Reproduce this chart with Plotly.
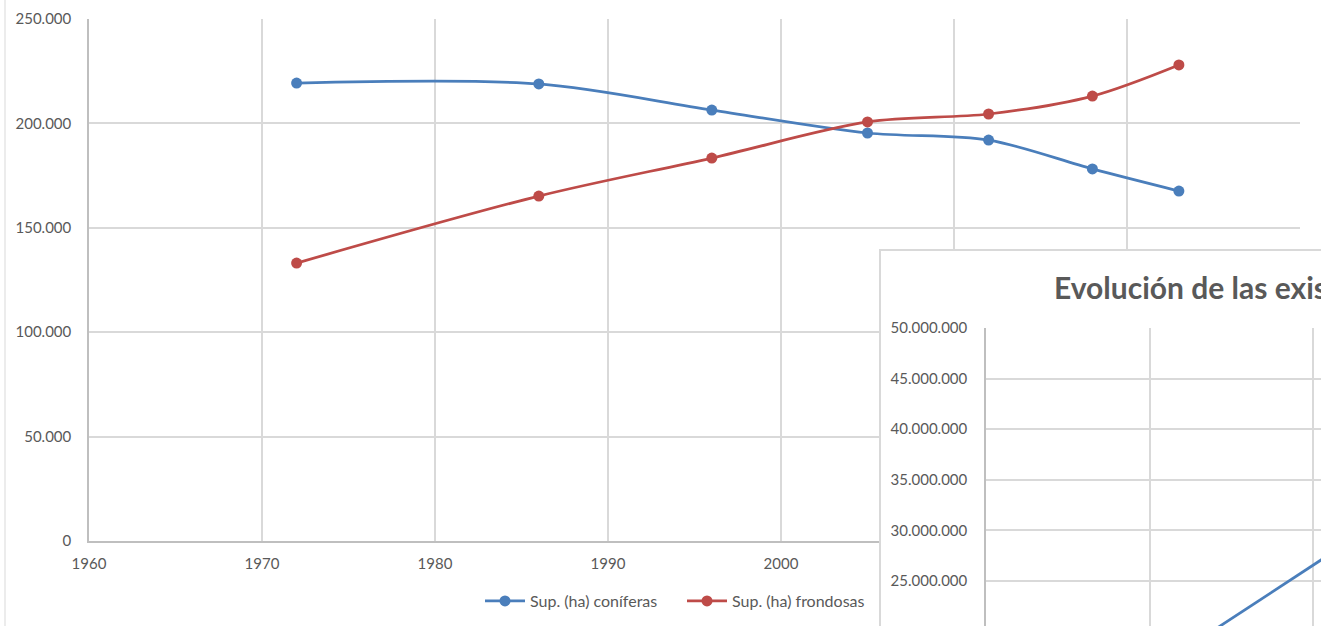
import plotly.graph_objects as go

# ---- data ----
years = [1972, 1986, 1996, 2005, 2012, 2018, 2023]
coniferas = [219300, 218900, 206400, 195400, 192000, 178200, 167600]
frondosas = [133100, 165200, 183400, 200700, 204500, 213100, 228000]

inset_years = [1972, 1986]
inset_existencias = [18100000, 32900000]

main_x_ticks = [1960, 1970, 1980, 1990, 2000, 2010, 2020, 2030]
main_y_ticks = [0, 50000, 100000, 150000, 200000, 250000]
inset_y_ticks = [20000000, 25000000, 30000000, 35000000, 40000000, 45000000, 50000000]

inset_title = "Evolución de las existencias"

BLUE = "#4a7ebb"
RED = "#be4b48"
GRID = "#d9d9d9"
AXIS = "#bfbfbf"
TXT = "#595959"
FONT = "Lato"

W, H = 1321, 626
OFF = 0  # body margin removed via post_script

def px_x(p):
    return (p - OFF) / W

def px_y(p):
    return (H - (p - OFF)) / H

# inset axis scale (page pixels per unit)
INSET_X_PX_PER_YEAR = 16.35
INSET_Y_PX_PER_UNIT = (581 - 328) / 25000000
inset_x_end = 1960 + (OFF + W - 986) / INSET_X_PX_PER_YEAR
inset_y_bottom = 50000000 - (OFF + H - 328) / INSET_Y_PX_PER_UNIT

fig = go.Figure()

fig.add_trace(go.Scatter(
    x=years, y=coniferas, name="Sup. (ha) coníferas",
    mode="lines+markers", line=dict(color=BLUE, width=2.75, shape="spline", smoothing=0.9),
    marker=dict(size=11, color=BLUE), xaxis="x", yaxis="y"))
fig.add_trace(go.Scatter(
    x=years, y=frondosas, name="Sup. (ha) frondosas",
    mode="lines+markers", line=dict(color=RED, width=2.75, shape="spline", smoothing=0.9),
    marker=dict(size=11, color=RED), xaxis="x", yaxis="y"))

# empty trace to create the inset chart-area (box) subplot
fig.add_trace(go.Scatter(x=[], y=[], xaxis="x2", yaxis="y2", showlegend=False, hoverinfo="skip"))

# inset series
fig.add_trace(go.Scatter(
    x=inset_years, y=inset_existencias, name="Existencias",
    mode="lines", line=dict(color=BLUE, width=2.75),
    xaxis="x3", yaxis="y3", showlegend=False))

fig.update_layout(
    template="none",
    width=W, height=H,
    margin=dict(l=0, r=0, t=0, b=0, pad=0, autoexpand=False),
    paper_bgcolor="white", plot_bgcolor="white",
    separators=",.",
    font=dict(family=FONT, size=15, color=TXT),
    showlegend=True,
    legend=dict(orientation="h", x=px_x(682), xanchor="center", y=px_y(601), yanchor="middle",
                font=dict(family=FONT, size=16, color=TXT), itemwidth=40,
                entrywidth=147, entrywidthmode="pixels",
                bgcolor="rgba(0,0,0,0)"),
    xaxis=dict(domain=[px_x(89), px_x(1300)], range=[1960, 2030], tickvals=main_x_ticks,
               showgrid=True, gridcolor=GRID, gridwidth=1.5, showline=True, linecolor=AXIS,
               linewidth=1.5, zeroline=False, ticks="", tickfont=dict(size=15, color=TXT),
               ticklabelstandoff=8, anchor="y", automargin=False),
    yaxis=dict(domain=[px_y(541), px_y(19)], range=[0, 250000], tickvals=main_y_ticks,
               tickformat=",d", showgrid=True, gridcolor=GRID, gridwidth=1.5, showline=True,
               linecolor=AXIS, linewidth=1.5, zeroline=False, ticks="",
               tickfont=dict(size=15, color=TXT), ticklabelstandoff=13, anchor="x",
               automargin=False),
    xaxis2=dict(domain=[px_x(881), 1], range=[0, 1], visible=True, showgrid=False,
                showticklabels=False, zeroline=False, showline=True, side="top",
                linecolor=GRID, linewidth=1.5, anchor="y2", fixedrange=True, automargin=False),
    yaxis2=dict(domain=[0, px_y(251)], range=[0, 1], showgrid=False, showticklabels=False,
                zeroline=False, showline=True, linecolor=GRID, linewidth=1.5, anchor="x2",
                fixedrange=True, automargin=False),
    xaxis3=dict(domain=[px_x(986), 1], range=[1960, inset_x_end], dtick=10,
                tick0=1960, showgrid=True, gridcolor=GRID, gridwidth=1.5, showticklabels=False,
                zeroline=False, showline=False, anchor="y3", automargin=False),
    yaxis3=dict(domain=[0, px_y(328)], range=[inset_y_bottom, 50000000], tickvals=inset_y_ticks,
                tickformat=",d", showgrid=True, gridcolor=GRID, gridwidth=1.5, showline=True,
                linecolor=AXIS, linewidth=1.5, zeroline=False, ticks="",
                tickfont=dict(size=15, color=TXT), ticklabelstandoff=14, anchor="x3",
                automargin=False),
)

fig.add_annotation(
    text=inset_title, xref="paper", yref="paper", x=px_x(1052), y=px_y(287),
    xanchor="left", yanchor="middle", showarrow=False,
    font=dict(family=FONT, size=30, color=TXT, weight="bold"))

# faint outer border of the main chart area (left)
fig.add_shape(type="line", xref="paper", yref="paper", x0=px_x(5), x1=px_x(5), y0=0, y1=1,
              line=dict(color="#e6e6e6", width=1.5), layer="below")

fig.write_html("out.html", config={"displayModeBar": False},
               post_script="document.body.style.margin='0';document.body.style.overflow='hidden';")
